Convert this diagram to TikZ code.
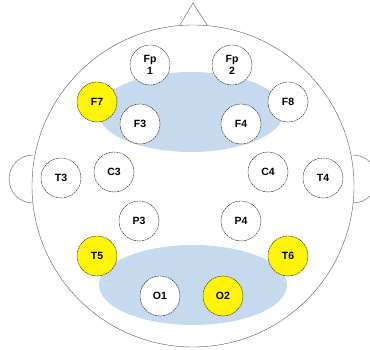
\documentclass[tikz,border=0pt]{standalone}
\usepackage{fontspec}
\setmainfont{Liberation Sans}
\usepackage{xcolor}
\usetikzlibrary{positioning}
\definecolor{zoneblue}{HTML}{C6DAEF}
\definecolor{hotyellow}{HTML}{FFF500}
\tikzset{
	electrode/.style={circle, draw=gray!30!black, dash pattern=on 2pt off 0.7pt, thin, fill=white,
		minimum size=40pt, inner sep=0pt, align=center,
		font=\fontsize{10.5}{12}\selectfont\bfseries},
	active/.style={electrode, fill=hotyellow},
	outline/.style={draw=gray!70!black, thin}
}

\begin{document}
\begin{tikzpicture}[x=1pt, y=-1pt]
	\useasboundingbox (0, 0) rectangle (370, 350);
	% ears and nose
	\draw[outline] (33, 155) arc (270:90:24);
	\draw[outline] (353, 155) arc (-90:90:24);
	\draw[outline] (180, 25) -- (193, 3) -- (207, 25);
	\filldraw[outline, fill=white] (193, 186) circle (161);
	% regions of interest
	\fill[zoneblue] (191, 112) ellipse (93 and 40);
	\fill[zoneblue] (193, 285) ellipse (94 and 40);
	% electrodes
	\node[electrode] (fp1) at (150, 65) {Fp\\1};
	\node[electrode] (fp2) at (232, 65) {Fp\\2};
	\node[active] (f7) at (97, 102) {F7};
	\node[electrode] (f8) at (288, 102) {F8};
	\node[electrode] (f3) at (140, 124) {F3};
	\node[electrode] (f4) at (241, 124) {F4};
	\node[electrode] (t3) at (61, 178) {T3};
	\node[electrode] (c3) at (114, 172) {C3};
	\node[electrode] (c4) at (268, 172) {C4};
	\node[electrode] (t4) at (323, 178) {T4};
	\node[electrode] (p3) at (139, 221) {P3};
	\node[electrode] (p4) at (241, 221) {P4};
	\node[active] (t5) at (97, 256) {T5};
	\node[active] (t6) at (288, 256) {T6};
	\node[electrode] (o1) at (160, 296) {O1};
	\node[active] (o2) at (223, 296) {O2};
\end{tikzpicture}
\end{document}
